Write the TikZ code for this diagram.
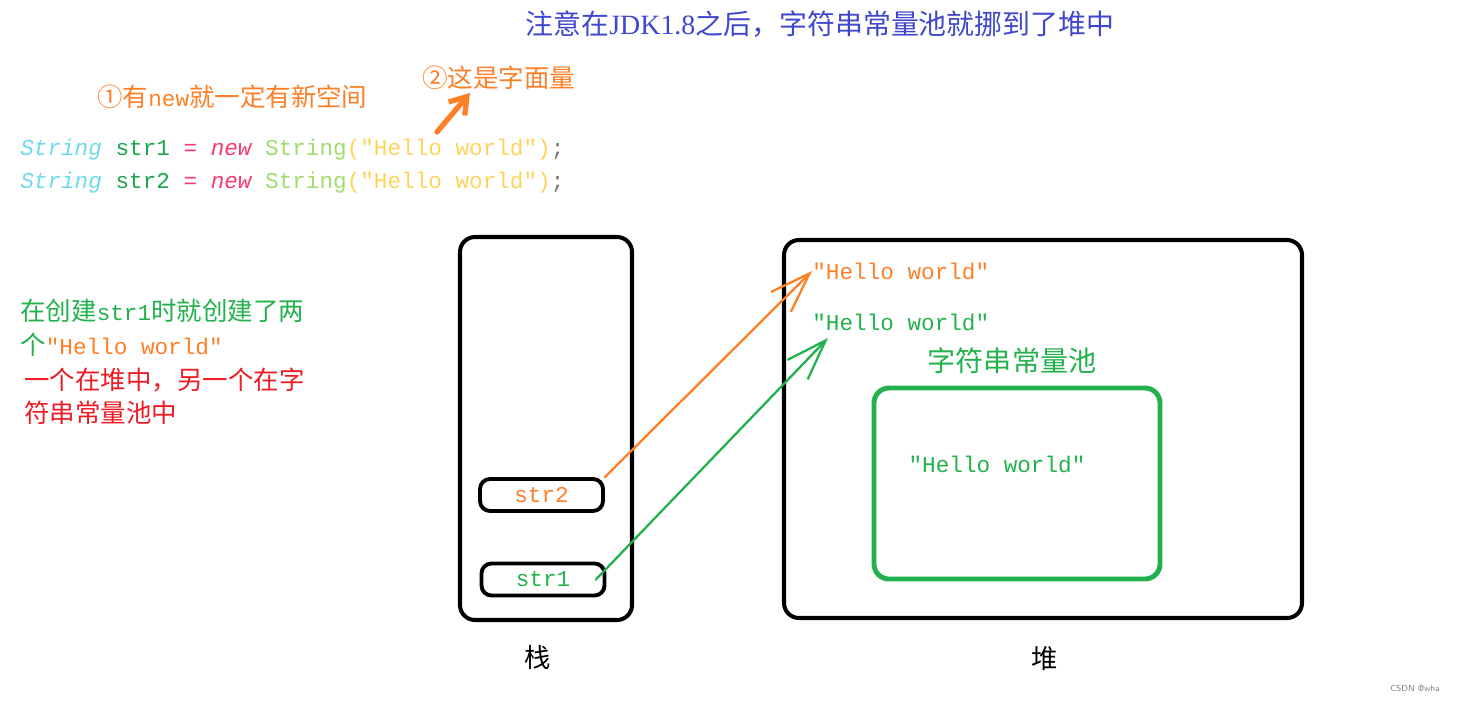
\documentclass[tikz,border=0pt]{standalone}
\usepackage{fontspec}
\setmainfont{Liberation Serif}
\setmonofont{Liberation Mono}
\newfontfamily\cjk{Noto Sans CJK SC}
\usetikzlibrary{arrows.meta,positioning}

\definecolor{titleblue}{RGB}{63,72,204}
\definecolor{porange}{RGB}{255,127,39}
\definecolor{pgreen}{RGB}{34,177,76}
\definecolor{pred}{RGB}{237,28,36}
\definecolor{ctype}{RGB}{110,218,236}
\definecolor{cvar}{RGB}{30,165,80}
\definecolor{ckey}{RGB}{245,60,110}
\definecolor{cclass}{RGB}{160,220,110}
\definecolor{cstr}{RGB}{255,210,90}
\definecolor{cpunct}{RGB}{120,120,120}

\newcommand{\mono}[1]{{\ttfamily\fontsize{12.9}{16}\selectfont #1}}

\begin{document}
\begin{tikzpicture}[x=0.02cm,y=-0.02cm,
  cjktxt/.style={font=\cjk\fontsize{14.5}{17}\selectfont, inner sep=0pt},
  monotxt/.style={font=\ttfamily\fontsize{12.9}{16}\selectfont, inner sep=0pt},
  membox/.style={draw=black, line width=2.3pt, rounded corners=0.3cm},
  varbox/.style={draw=black, line width=2.2pt, rounded corners=0.2cm, minimum width=2.46cm, minimum height=0.64cm, monotxt},
  ptr/.style={line width=1.3pt, line cap=round, -{Straight Barb[length=23pt,width=16pt,line width=1.3pt]}}
]
 \useasboundingbox (0,0) rectangle (1457,700);

	%title
 \node[font=\fontsize{15.9}{19}\selectfont, text=titleblue, inner sep=0pt] (title) at (820,24) {{\cjk 注意在}JDK1.8{\cjk 之后，字符串常量池就挪到了堆中}};

	%notes above code
 \node[cjktxt, text=porange, anchor=west] (newnote) at (97,97) {①有\mono{new}就一定有新空间};
 \node[cjktxt, text=porange, anchor=west] (lit) at (422,78) {②这是字面量};
 \coordinate (littail) at (437,132);
 \coordinate (littip) at (470,93);
 \draw[porange, line width=3pt, line cap=round, -{Straight Barb[length=9pt,width=12pt,line width=3pt]}] (littail) -- (littip);

	%code
    \foreach \i/\y in {1/150, 2/183}{
         \node[monotxt, anchor=west] (code\i) at (20,\y) {\textcolor{ctype}{\itshape String} \textcolor{cvar}{str\i} \textcolor{ckey}{=} \textcolor{ckey}{\itshape new} \textcolor{cclass}{String}\textcolor{cstr}{("Hello world")}\textcolor{cpunct}{;}};
    }

	%explanation
 \node[cjktxt, text=pgreen, anchor=west] (expl1) at (20,311) {在创建\mono{str1}时就创建了两};
 \node[cjktxt, anchor=west] (expl2) at (20,345) {\textcolor{pgreen}{个}\textcolor{porange}{\mono{"Hello world"}}};
    \foreach \i/\y/\txt in {3/380/一个在堆中，另一个在字, 4/413/符串常量池中}{
         \node[cjktxt, text=pred, anchor=west] (expl\i) at (24,\y) {\txt};
    }

	%stack
 \draw[membox] (460,237) rectangle (632,620);
 \node[cjktxt, font=\cjk\fontsize{15}{18}\selectfont] (stacklbl) at (538,657) {栈};
 \node[varbox, text=porange] (str2) at (541.5,495) {str2};
 \node[varbox, text=pgreen] (str1) at (543,579.5) {str1};

	%heap
 \draw[membox] (784,240) rectangle (1302,618);
 \node[cjktxt, font=\cjk\fontsize{15}{18}\selectfont] (heaplbl) at (1045,659) {堆};
 \node[monotxt, text=porange, anchor=west] (hello1) at (812,271) {"Hello world"};
 \node[monotxt, text=pgreen, anchor=west] (hello2) at (812,322) {"Hello world"};
 \coordinate (hello2tip) at (828,338);

	%pool
 \node[cjktxt, font=\cjk\fontsize{16}{19}\selectfont, text=pgreen] (poollbl) at (1012,361) {字符串常量池};
 \draw[membox, draw=pgreen, line width=2.8pt] (874,388) rectangle (1160,579);
 \node[monotxt, text=pgreen] (hello3) at (997,464) {"Hello world"};

	%references
 \draw[ptr, porange] (str2.north east) -- (hello1.west);
 \draw[ptr, pgreen] ([xshift=-6pt]str1.east) -- (hello2tip);

 \node[font=\sffamily\fontsize{5}{6}\selectfont, text=gray] (mark) at (1415,688) {CSDN @wha};

\end{tikzpicture}
\end{document}
